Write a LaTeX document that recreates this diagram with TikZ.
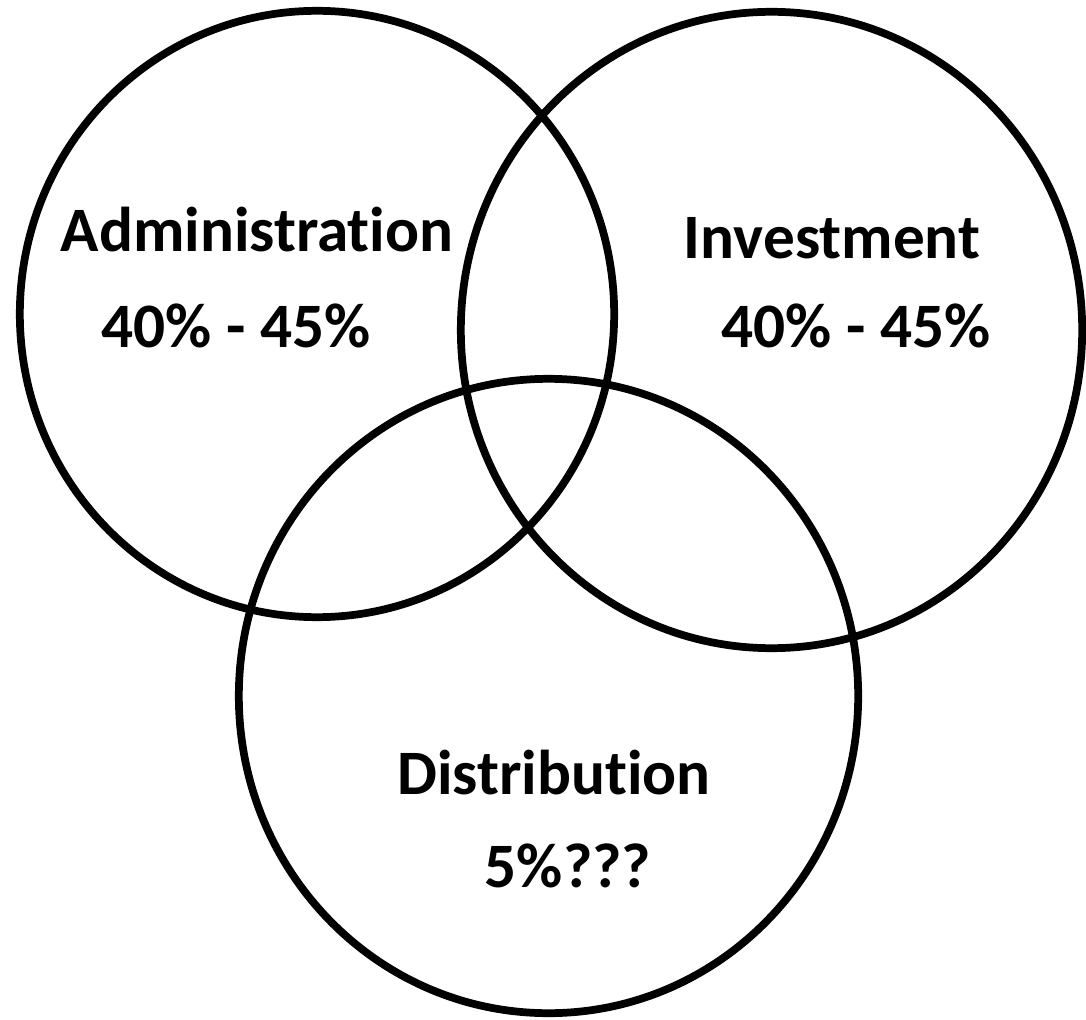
\documentclass[tikz,border=0pt]{standalone}
\usepackage{fontspec}
\setmainfont[Ligatures=NoCommon]{Carlito}
\tikzset{
  ring/.style={line width=2.2pt},
  lbl/.style={font=\fontsize{18}{20}\selectfont\bfseries, inner sep=0pt}
}
\begin{document}
\begin{tikzpicture}[x=0.01cm,y=-0.01cm]
        \useasboundingbox (0,0) rectangle (1086,1019);
        \coordinate (adm) at (317,314);
        \coordinate (inv) at (771.5,330);
        \coordinate (dis) at (548.5,696);
        \draw[ring] (adm) ellipse [x radius=2.97cm, y radius=3.03cm];
        \draw[ring] (inv) ellipse [x radius=3.105cm, y radius=3.18cm];
        \draw[ring] (dis) ellipse [x radius=3.095cm, y radius=3.17cm];
        \node[lbl] (admname) at (257,230) {Administration};
        \node[lbl] (admshare) at (236,326) {40\% - 45\%};
        \node[lbl] (invname) at (832,238) {Investment};
        \node[lbl] (invshare) at (856,326) {40\% - 45\%};
        \node[lbl] (disname) at (554,773) {Distribution};
        \node[lbl] (disshare) at (568,866) {5\%???};
        \end{tikzpicture}
\end{document}
